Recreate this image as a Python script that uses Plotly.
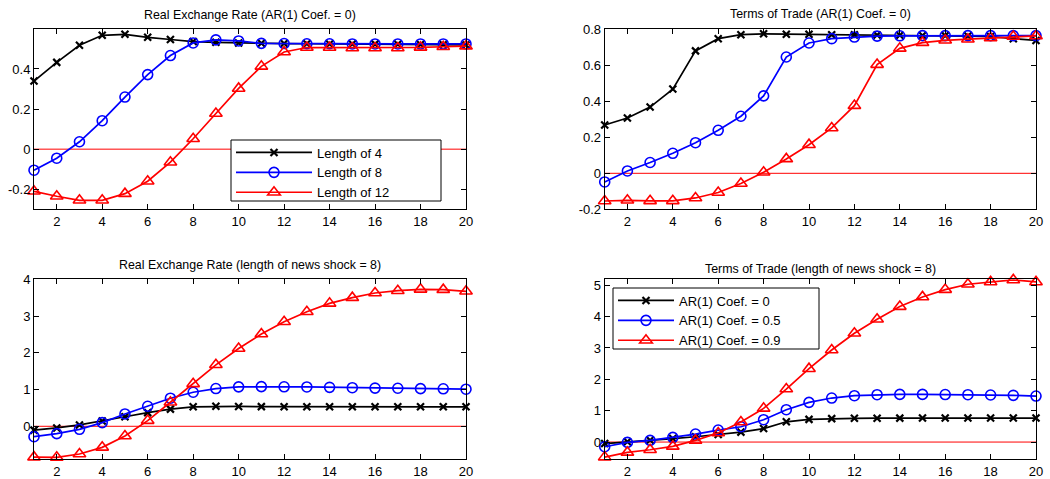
import plotly.graph_objects as go

periods = list(range(1, 21))

# Panel 1: Real Exchange Rate (AR(1) Coef. = 0)
rer_len4 = [0.34, 0.433, 0.518, 0.568, 0.573, 0.558, 0.547, 0.537, 0.533, 0.530,
            0.528, 0.527, 0.526, 0.525, 0.525, 0.524, 0.523, 0.522, 0.521, 0.520]
rer_len8 = [-0.105, -0.045, 0.037, 0.142, 0.26, 0.372, 0.467, 0.53, 0.545, 0.54,
            0.528, 0.527, 0.526, 0.526, 0.525, 0.525, 0.525, 0.525, 0.525, 0.525]
rer_len12 = [-0.21, -0.235, -0.255, -0.255, -0.222, -0.16, -0.065, 0.052, 0.178, 0.303,
             0.413, 0.485, 0.507, 0.507, 0.505, 0.505, 0.505, 0.508, 0.511, 0.514]

# Panel 2: Terms of Trade (AR(1) Coef. = 0)
tot_len4 = [0.268, 0.307, 0.368, 0.468, 0.68, 0.748, 0.77, 0.775, 0.773, 0.772,
            0.77, 0.769, 0.768, 0.767, 0.766, 0.765, 0.763, 0.76, 0.748, 0.738]
tot_len8 = [-0.048, 0.013, 0.06, 0.111, 0.17, 0.239, 0.317, 0.43, 0.646, 0.724,
            0.748, 0.757, 0.762, 0.764, 0.765, 0.765, 0.765, 0.765, 0.765, 0.765]
tot_len12 = [-0.154, -0.15, -0.153, -0.153, -0.137, -0.107, -0.057, 0.006, 0.08, 0.159,
             0.252, 0.376, 0.604, 0.694, 0.726, 0.739, 0.745, 0.752, 0.76, 0.763]

# Panel 3: Real Exchange Rate (length of news shock = 8)
rer_ar0 = [-0.105, -0.045, 0.037, 0.142, 0.26, 0.372, 0.467, 0.53, 0.545, 0.54,
           0.535, 0.532, 0.530, 0.530, 0.530, 0.530, 0.530, 0.530, 0.530, 0.530]
rer_ar05 = [-0.282, -0.2, -0.082, 0.1, 0.336, 0.545, 0.764, 0.927, 1.027, 1.073,
            1.08, 1.075, 1.07, 1.06, 1.05, 1.04, 1.035, 1.025, 1.02, 1.01]
rer_ar09 = [-0.84, -0.845, -0.755, -0.573, -0.264, 0.155, 0.655, 1.155, 1.673, 2.118,
            2.51, 2.845, 3.118, 3.345, 3.5, 3.627, 3.69, 3.727, 3.718, 3.673]

# Panel 4: Terms of Trade (length of news shock = 8)
tot_ar0 = [-0.048, 0.013, 0.06, 0.111, 0.17, 0.239, 0.317, 0.43, 0.646, 0.724,
           0.748, 0.757, 0.762, 0.764, 0.765, 0.765, 0.765, 0.765, 0.765, 0.765]
tot_ar05 = [-0.149, -0.01, 0.053, 0.149, 0.255, 0.383, 0.489, 0.713, 1.032, 1.266,
            1.404, 1.479, 1.51, 1.52, 1.52, 1.515, 1.51, 1.5, 1.49, 1.468]
tot_ar09 = [-0.48, -0.33, -0.245, -0.138, 0.053, 0.287, 0.638, 1.074, 1.69, 2.34,
            2.936, 3.468, 3.915, 4.32, 4.628, 4.862, 5.032, 5.106, 5.17, 5.106]

titles = ["Real Exchange Rate (AR(1) Coef. = 0)",
          "Terms of Trade (AR(1) Coef. = 0)",
          "Real Exchange Rate (length of news shock = 8)",
          "Terms of Trade (length of news shock = 8)"]
legend_len = ["Length of 4", "Length of 8", "Length of 12"]
legend_ar = ["AR(1) Coef. = 0", "AR(1) Coef. = 0.5", "AR(1) Coef. = 0.9"]

x_ticks = list(range(2, 21, 2))
y_ticks_1 = [-0.2, 0, 0.2, 0.4]
y_text_1 = ["-0.2", "0", "0.2", "0.4"]
y_ticks_2 = [-0.2, 0, 0.2, 0.4, 0.6, 0.8]
y_text_2 = ["-0.2", "0", "0.2", "0.4", "0.6", "0.8"]
y_ticks_3 = [0, 1, 2, 3, 4]
y_text_3 = ["0", "1", "2", "3", "4"]
y_ticks_4 = [0, 1, 2, 3, 4, 5]
y_text_4 = ["0", "1", "2", "3", "4", "5"]

W, H = 1050, 479
FONT = "Liberation Sans, Arial, sans-serif"

styles = [
    dict(color="black", symbol="x-thin-open", size=7, mlw=2.2),
    dict(color="#0000ff", symbol="circle-open", size=10, mlw=1.6),
    dict(color="#ff0000", symbol="triangle-up-open", size=11, mlw=1.6),
]

panels = [
    dict(series=[rer_len4, rer_len8, rer_len12], names=legend_len, legend="legend",
         xd=(34, 466), yd=(29.3, 209.3), yr=[-0.3, 0.598], yt=(y_ticks_1, y_text_1),
         ty=15),
    dict(series=[tot_len4, tot_len8, tot_len12], names=legend_len, legend=None,
         xd=(604.7, 1036), yd=(29.3, 209.3), yr=[-0.2, 0.8], yt=(y_ticks_2, y_text_2),
         ty=14.5),
    dict(series=[rer_ar0, rer_ar05, rer_ar09], names=legend_ar, legend=None,
         xd=(34, 466), yd=(279.3, 459), yr=[-0.89, 4], yt=(y_ticks_3, y_text_3),
         ty=265),
    dict(series=[tot_ar0, tot_ar05, tot_ar09], names=legend_ar, legend="legend2",
         xd=(604.7, 1036), yd=(279.3, 459), yr=[-0.54, 5.19], yt=(y_ticks_4, y_text_4),
         ty=269),
]

# legend boxes (pixel positions: left, top, right, bottom)
legend_boxes = {"legend": (231, 140, 441, 201), "legend2": (613, 288, 819, 349)}
legend_itemwidth = {"legend": 76, "legend2": 56}

fig = go.Figure()
layout = dict(
    width=W, height=H, margin=dict(l=0, r=0, t=0, b=0, autoexpand=False),
    paper_bgcolor="white", plot_bgcolor="white",
    font=dict(family=FONT, size=13, color="black"),
    shapes=[], annotations=[],
)

for i, p in enumerate(panels):
    k = "" if i == 0 else str(i + 1)
    xa, ya = "x" + k, "y" + k
    for s, name, st in zip(p["series"], p["names"], styles):
        fig.add_trace(go.Scatter(
            x=periods, y=s, mode="lines+markers", name=name,
            xaxis=xa, yaxis=ya,
            line=dict(color=st["color"], width=1.7),
            marker=dict(symbol=st["symbol"], size=st["size"], color=st["color"],
                        line=dict(color=st["color"], width=st["mlw"])),
            showlegend=p["legend"] is not None,
            legend=p["legend"] if p["legend"] else "legend",
            cliponaxis=False,
        ))
    x0, x1 = p["xd"]
    yt0, yb0 = p["yd"]
    layout["xaxis" + k] = dict(
        domain=[x0 / W, x1 / W], anchor=ya, range=[1, 20],
        tickvals=x_ticks, ticks="inside", ticklen=5, tickcolor="black",
        showline=True, linecolor="black", linewidth=1, mirror="ticks",
        showgrid=False, zeroline=False, tickfont=dict(size=13), automargin=False,
    )
    layout["yaxis" + k] = dict(
        domain=[(H - yb0) / H, (H - yt0) / H], anchor=xa, range=p["yr"],
        tickvals=p["yt"][0], ticktext=p["yt"][1], ticks="inside", ticklen=5,
        tickcolor="black", showline=True, linecolor="black", linewidth=1,
        mirror="ticks", showgrid=False, zeroline=False, tickfont=dict(size=13),
        automargin=False,
    )
    layout["shapes"].append(dict(
        type="line", xref=xa + " domain", yref=ya, x0=0, x1=1, y0=0, y1=0,
        line=dict(color="#ff0000", width=1), layer="below",
    ))
    layout["annotations"].append(dict(
        text=titles[i], xref="paper", yref="paper",
        x=(x0 + x1) / 2 / W, y=(H - p["ty"]) / H, xanchor="center", yanchor="middle",
        showarrow=False, font=dict(size=12.4, family=FONT),
    ))

for key, (bl, bt, br, bb) in legend_boxes.items():
    layout["shapes"].append(dict(
        type="rect", xref="paper", yref="paper",
        x0=bl / W, x1=br / W, y0=(H - bb) / H, y1=(H - bt) / H,
        fillcolor="white", line=dict(color="black", width=1), layer="above",
    ))
    layout[key] = dict(
        x=bl / W, y=(H - bt + 2.5) / H, xanchor="left", yanchor="top",
        bgcolor="rgba(0,0,0,0)", borderwidth=0,
        font=dict(size=13), itemwidth=legend_itemwidth[key], tracegroupgap=0,
    )

fig.update_layout(**layout)
fig.write_html(
    "out.html",
    config={"displayModeBar": False},
    post_script="document.body.style.margin='0';document.body.style.overflow='hidden';",
)
